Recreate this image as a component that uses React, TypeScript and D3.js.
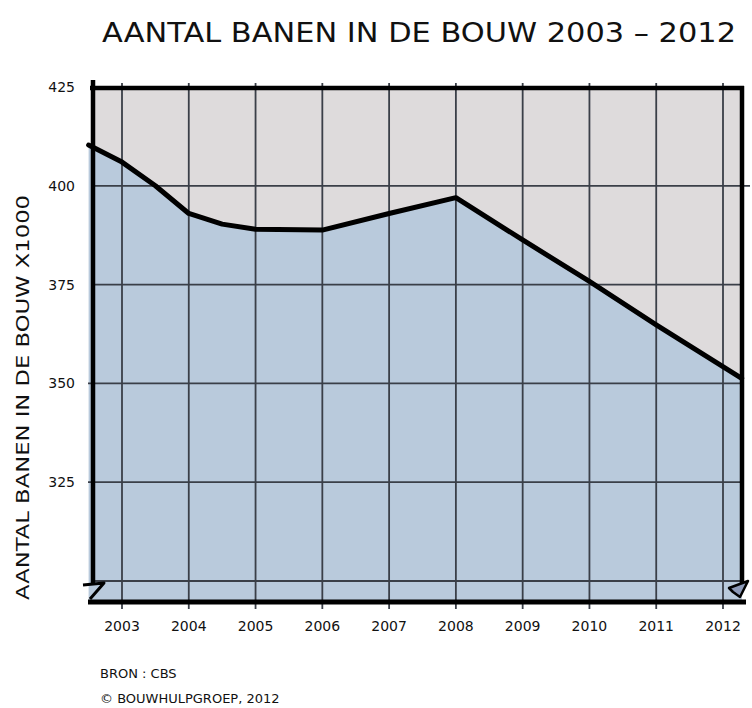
import React from "react";
import * as d3 from "d3";

const years = [2003, 2004, 2005, 2006, 2007, 2008, 2009, 2010, 2011, 2012];
const yearLabels = ["2003", "2004", "2005", "2006", "2007", "2008", "2009", "2010", "2011", "2012"];
const yTicks = [425, 400, 375, 350, 325];
const gridValues = [400, 375, 350, 325, 300];
// line runs slightly past first/last year at the plot edges
const lineYears = [2002.5, 2003, 2003.5, 2004, 2004.5, 2005, 2006, 2007, 2008, 2009, 2010, 2011, 2012.28];
const lineValues = [410.3, 406, 400, 393, 390.3, 389, 388.8, 393, 397, 386.3, 375.8, 364.8, 351.3];

const W = 752;
const H = 708;
const LEFT = 93;
const RIGHT = 742;
const TOP = 88;
const BOTTOM = 602;

const FONT = "'Liberation Sans Narrow', 'DejaVu Sans', sans-serif";

export default function App() {
  const x = d3.scaleLinear().domain([2003, 2012]).range([122, 723]);
  const y = d3.scaleLinear().domain([300, 425]).range([581, 87]);

  const pts = lineYears.map((yr, i) => [yr, lineValues[i]] as [number, number]);
  const line = d3
    .line<[number, number]>()
    .x((d) => x(d[0]))
    .y((d) => y(d[1]))
    .curve(d3.curveLinear);
  const area = d3
    .area<[number, number]>()
    .x((d) => x(d[0]))
    .y0(BOTTOM)
    .y1((d) => y(d[1]))
    .curve(d3.curveLinear);

  const gridColor = "#3a3f48";

  return (
    <svg
      width={W}
      height={H}
      style={{ position: "absolute", left: 0, top: 0, background: "#fff" }}
    >
      {/* title */}
      <text
        x={102}
        y={42}
        fontFamily={FONT}
        fontSize={26}
        fill="#111"
        textLength={634}
        lengthAdjust="spacingAndGlyphs"
      >
        AANTAL BANEN IN DE BOUW 2003 – 2012
      </text>

      {/* plot background */}
      <rect x={LEFT} y={TOP} width={RIGHT - LEFT} height={BOTTOM - TOP} fill="#dedbdc" />
      <path d={area(pts) ?? ""} fill="#b9cadc" />

      {/* gridlines */}
      {gridValues.map((v) => (
        <line
          key={"h" + v}
          x1={v === 350 || v === 325 ? 88 : LEFT}
          x2={v === 400 ? 750 : RIGHT}
          y1={y(v)}
          y2={y(v)}
          stroke={gridColor}
          strokeWidth={1.8}
        />
      ))}
      {years.map((yr) => (
        <line
          key={"v" + yr}
          x1={x(yr)}
          x2={x(yr)}
          y1={TOP - 5}
          y2={BOTTOM + 7}
          stroke={gridColor}
          strokeWidth={1.8}
        />
      ))}

      {/* borders */}
      <line x1={LEFT - 3} x2={RIGHT + 2} y1={TOP} y2={TOP} stroke="#000" strokeWidth={4.5} />
      <line x1={LEFT} x2={LEFT} y1={TOP - 8} y2={585} stroke="#000" strokeWidth={4.5} />
      <line x1={RIGHT} x2={RIGHT} y1={TOP - 2} y2={585} stroke="#000" strokeWidth={4.5} />
      <line x1={88} x2={RIGHT + 4} y1={BOTTOM} y2={BOTTOM} stroke="#000" strokeWidth={5} />

      {/* axis break marks */}
      <path
        d={`M83,585 L104,583 L90,599`}
        fill="none"
        stroke="#000"
        strokeWidth={3}
        strokeLinejoin="round"
      />
      <path
        d={`M729,588 L748,581 L740,597 L733,592 Z`}
        fill="#8d9ab8"
        stroke="#000"
        strokeWidth={2.5}
        strokeLinejoin="round"
      />

      {/* data line */}
      <path
        d={line(pts) ?? ""}
        fill="none"
        stroke="#000"
        strokeWidth={5}
        strokeLinejoin="round"
        strokeLinecap="round"
      />

      {/* y tick labels */}
      {yTicks.map((v) => (
        <text
          key={"yt" + v}
          x={75}
          y={y(v)}
          dy="0.35em"
          textAnchor="end"
          fontFamily={FONT}
          fontSize={14}
          fill="#111"
        >
          {v}
        </text>
      ))}

      {/* x tick labels */}
      {years.map((yr, i) => (
        <text
          key={"xt" + yr}
          x={x(yr)}
          y={631}
          textAnchor="middle"
          fontFamily={FONT}
          fontSize={14}
          fill="#111"
        >
          {yearLabels[i]}
        </text>
      ))}

      {/* y axis title */}
      <text
        transform={`translate(29,${(195 + 600) / 2}) rotate(-90)`}
        textAnchor="middle"
        fontFamily={FONT}
        fontSize={18}
        fill="#111"
        textLength={405}
        lengthAdjust="spacingAndGlyphs"
      >
        AANTAL BANEN IN DE BOUW X1000
      </text>

      {/* footer */}
      <text x={100} y={678} fontFamily={FONT} fontSize={13} fill="#111">
        BRON : CBS
      </text>
      <text x={100} y={703} fontFamily={FONT} fontSize={13} fill="#111">
        © BOUWHULPGROEP, 2012
      </text>
    </svg>
  );
}
